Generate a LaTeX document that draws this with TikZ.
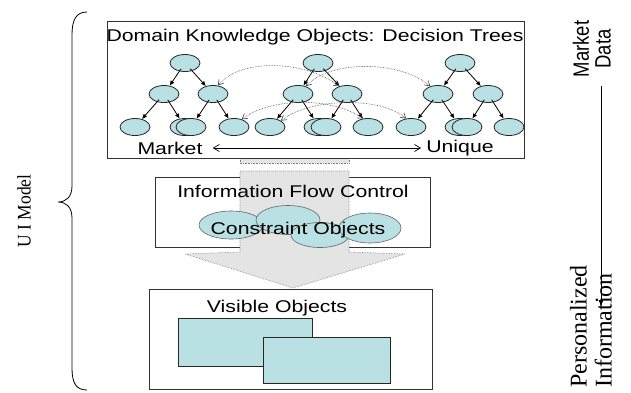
\documentclass[tikz,border=0pt]{standalone}
\usepackage{fontspec}
\setmainfont{Liberation Serif}
\newfontfamily\arialf{Liberation Sans}
\usetikzlibrary{shapes.geometric,arrows.meta}
\definecolor{objfill}{RGB}{185,224,226}
\definecolor{fatfill}{RGB}{228,228,228}
\definecolor{fatline}{RGB}{125,125,125}
\newcommand\hstretch[1]{\scalebox{1.25}[1]{#1}}
\begin{document}
\begin{tikzpicture}[x=1pt,y=-1pt,
  obj/.style={ellipse,draw=black!85,fill=objfill,line width=0.8pt,minimum width=30pt,minimum height=17pt,inner sep=0pt},
  cobj/.style={ellipse,draw=black!60,fill=objfill,line width=0.6pt,inner sep=0pt},
  robj/.style={rectangle,draw=black!85,fill=objfill,line width=0.8pt,inner sep=0pt},
  tarr/.style={-{Latex[length=5pt,width=4.5pt]},line width=0.8pt,shorten <=-3pt},
  link/.style={{Straight Barb[length=5pt,width=6pt]}-{Straight Barb[length=5pt,width=6pt]},densely dotted,draw=black!75,line width=0.6pt},
  box/.style={draw=black!80,line width=0.8pt,inner sep=0pt},
  sans/.style={font=\arialf\fontsize{17}{20}\selectfont,inner sep=0pt},
  fat/.style={fill=fatfill,draw=fatline,densely dotted,line width=0.6pt}
]
\useasboundingbox (0,0) rectangle (631,392);

% brace
\draw[line width=0.8pt] (87,12) .. controls (76,12) and (72,20) .. (72,35) -- (72,186)
  .. controls (72,197) and (66,202) .. (58,202) .. controls (66,202) and (72,207) .. (72,218)
  -- (72,368) .. controls (72,383) and (76,390) .. (87,390);
\node[font=\fontsize{17.5}{20}\selectfont,rotate=90,inner sep=0pt] (uim) at (24,211) {\scalebox{1}[1.1]{U I Model}};

% right side
\node[rotate=90,inner sep=0pt] (mdata) at (595,49)
  {\scalebox{1}[1.2]{\arialf\fontsize{18.5}{18}\selectfont\begin{tabular}{@{}c@{}}Market\\Data\end{tabular}}};
\node[rotate=90,inner sep=0pt,anchor=west] (pinfo) at (594,388)
  {\fontsize{24}{25}\selectfont\begin{tabular}{@{}l@{}}Personalized\\Information\end{tabular}};
\coordinate (vtop) at (601,86);
\coordinate (vbot) at (601,307);
\draw[-{Latex[length=7pt,width=5pt]},line width=0.9pt] (vtop) -- (vbot);

% middle box
\node[box,minimum width=275pt,minimum height=70pt] (fbox) at (292.5,212) {};

% fat arrow
\fill[fatfill] (240,158) rectangle (349,163);
\draw[fatline,densely dotted,line width=0.6pt] (240,158) -- (240,163) -- (349,163) -- (349,158);
\draw[fat] (240,171) -- (349,171) -- (349,252) -- (405,254) -- (293,288) -- (185,254) -- (240,252) -- cycle;

% top box
\node[box,minimum width=417pt,minimum height=137pt] (kbox) at (315.5,89.5) {};
\node[sans] (ktitle) at (315,37) {\hstretch{Domain Knowledge Objects: Decision Trees}};

% tree 1
\node[obj] (a0) at (185,63) {};
\node[obj] (a1) at (164,94) {};
\node[obj] (a2) at (213,94) {};
\node[obj] (a3) at (135,127) {};
\node[obj] (a4) at (185,127) {};
\node[obj] (a5) at (191,127) {};
\node[obj] (a6) at (234,127) {};
% tree 2
\node[obj] (b0) at (318,63) {};
\node[obj] (b1) at (298,94) {};
\node[obj] (b2) at (347,94) {};
\node[obj] (b3) at (270,127) {};
\node[obj] (b4) at (319,127) {};
\node[obj] (b5) at (326,127) {};
\node[obj] (b6) at (368,127) {};
% tree 3
\node[obj] (c0) at (460,63) {};
\node[obj] (c1) at (438,94) {};
\node[obj] (c2) at (488,94) {};
\node[obj] (c3) at (411,127) {};
\node[obj] (c4) at (460,127) {};
\node[obj] (c5) at (467,127) {};
\node[obj] (c6) at (509,127) {};

\foreach \t in {a,b,c}{
  \draw[tarr] (\t0) -- (\t1);
  \draw[tarr] (\t0) -- (\t2);
  \draw[tarr] (\t1) -- (\t3);
  \draw[tarr] (\t1) -- (\t4);
  \draw[tarr] (\t2) -- (\t5);
  \draw[tarr] (\t2) -- (\t6);
}

% dotted links
\draw[link] (a2.60) .. controls (240,58) and (305,60) .. (b2.135);
\draw[link] (b1.45) .. controls (330,60) and (400,60) .. (c1.135);
\draw[link] (a6.45) .. controls (270,98) and (330,96) .. (b6.120);
\draw[link] (b3.30) .. controls (310,98) and (380,96) .. (c3.120);

\node[sans] (mk) at (170,148) {\hstretch{Market}};
\node[sans] (uq) at (460,148) {\hstretch{Unique}};
\draw[{Straight Barb[length=6pt,width=7pt]}-{Straight Barb[length=6pt,width=7pt]},line width=0.7pt,shorten <=10pt,shorten >=5pt] (mk) -- (uq);

% middle content
\node[sans] (ifc) at (293,191) {\hstretch{Information Flow Control}};
\node[cobj,minimum width=64pt,minimum height=28pt] (e1) at (231,225) {};
\node[cobj,minimum width=64pt,minimum height=29pt] (e2) at (288,220) {};
\node[cobj,minimum width=58pt,minimum height=25pt] (e3) at (320,235) {};
\node[cobj,minimum width=62pt,minimum height=30pt] (e4) at (370,228) {};
\node[sans] (co) at (298,230) {\hstretch{Constraint Objects}};

% bottom box
\node[box,minimum width=283pt,minimum height=100pt] (vbox) at (290.5,339) {};
\node[sans] (vo) at (277,308) {\hstretch{Visible Objects}};
\node[robj,minimum width=134pt,minimum height=48pt] (r1) at (245,342) {};
\node[robj,minimum width=127pt,minimum height=46pt] (r2) at (326.5,360) {};
\end{tikzpicture}
\end{document}
